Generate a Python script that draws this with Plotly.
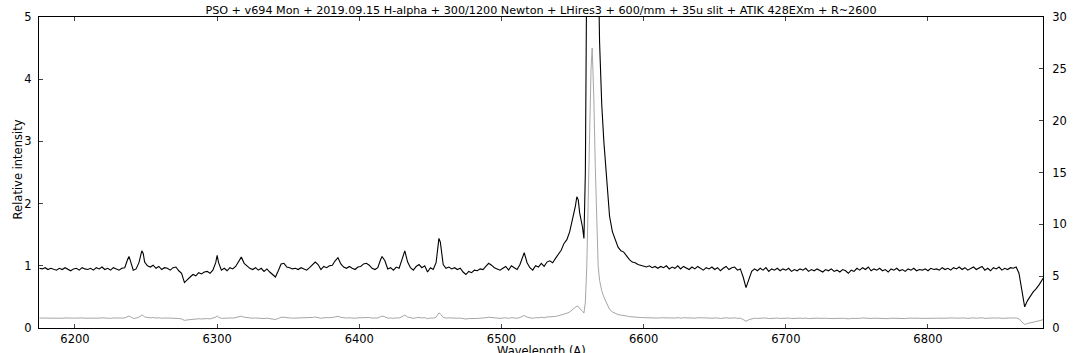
import plotly.graph_objects as go

# Wavelength (Angstrom) and relative intensity (normalised) of the spectrum
wavelength = [
    6175, 6177, 6179, 6181, 6183, 6185, 6187, 6189, 6191, 6193, 6195, 6197, 6199,
    6201, 6203, 6205, 6207, 6209, 6211, 6213, 6215, 6217, 6219, 6221, 6223, 6225,
    6227, 6229, 6231, 6233, 6235, 6237, 6238, 6239, 6241, 6243, 6245, 6247, 6248,
    6249, 6251, 6253, 6255, 6257, 6259, 6261, 6263, 6265, 6267, 6269, 6271, 6273,
    6275, 6277, 6279, 6281, 6283, 6285, 6287, 6289, 6291, 6293, 6295, 6297, 6299,
    6300, 6301, 6303, 6305, 6307, 6309, 6311, 6313, 6315, 6317, 6319, 6321, 6323,
    6325, 6327, 6329, 6331, 6333, 6335, 6337, 6339, 6341, 6343, 6345, 6347, 6349,
    6351, 6353, 6355, 6357, 6359, 6361, 6363, 6365, 6367, 6369, 6371, 6373, 6375,
    6377, 6379, 6381, 6383, 6385, 6387, 6389, 6391, 6393, 6395, 6397, 6399, 6401,
    6403, 6405, 6407, 6409, 6411, 6413, 6415, 6416, 6418, 6420, 6422, 6424, 6426,
    6428, 6430, 6432, 6434, 6436, 6438, 6440, 6442, 6444, 6446, 6448, 6450, 6452,
    6454, 6456, 6457, 6459, 6461, 6463, 6465, 6467, 6469, 6471, 6473, 6475, 6477,
    6479, 6481, 6483, 6485, 6487, 6489, 6491, 6493, 6495, 6497, 6499, 6501, 6503,
    6505, 6507, 6509, 6511, 6513, 6515, 6516, 6518, 6520, 6522, 6524, 6526, 6528,
    6530, 6532, 6534, 6536, 6538, 6540, 6542, 6544, 6546, 6548, 6550, 6552, 6553,
    6554, 6555, 6556, 6557, 6558, 6559, 6560, 6561, 6562, 6563, 6563.8, 6564.5,
    6565, 6566, 6567, 6568, 6569, 6570.5, 6572, 6574, 6576, 6578, 6580, 6582, 6584,
    6586, 6588, 6590, 6592, 6594, 6596, 6598,
    6600, 6602, 6604, 6606, 6608, 6610, 6612, 6614, 6616, 6618, 6620, 6622, 6624,
    6626, 6628, 6630, 6632, 6634, 6636, 6638, 6640, 6642, 6644, 6646, 6648, 6650,
    6652, 6654, 6656, 6658, 6660, 6662, 6664, 6666, 6668, 6670, 6672, 6674, 6676,
    6678, 6680, 6682, 6684, 6686, 6688, 6690, 6692, 6694, 6696, 6698, 6700, 6702,
    6704, 6706, 6708, 6710, 6712, 6714, 6716, 6718, 6720, 6722, 6724, 6726, 6728,
    6730, 6732, 6734, 6736, 6738, 6740, 6742, 6744, 6746, 6748, 6750, 6752, 6754,
    6756, 6758, 6760, 6762, 6764, 6766, 6768, 6770, 6772, 6774, 6776, 6778, 6780,
    6782, 6784, 6786, 6788, 6790, 6792, 6794, 6796, 6798, 6800, 6802, 6804, 6806,
    6808, 6810, 6812, 6814, 6816, 6818, 6820, 6822, 6824, 6826, 6828, 6830, 6832,
    6834, 6836, 6838, 6840, 6842, 6844, 6846, 6848, 6850, 6852, 6854, 6856, 6858,
    6860, 6862, 6864, 6866, 6868, 6870, 6872, 6874, 6876, 6878, 6881,
]

intensity = [
    0.96, 0.95, 0.97, 0.94, 0.96, 0.95, 0.93, 0.96, 0.94, 0.97, 0.95, 0.92, 0.95,
    0.96, 0.93, 0.97, 0.95, 0.94, 0.96, 0.93, 0.97, 0.95, 0.98, 0.94, 0.96, 0.93,
    0.97, 0.95, 0.93, 0.96, 0.97, 1.10, 1.15, 1.08, 0.93, 0.95, 1.05, 1.24, 1.20,
    1.06, 1.00, 0.98, 1.01, 0.96, 0.99, 0.94, 0.97, 0.96, 0.93, 0.97, 0.98, 0.92,
    0.88, 0.73, 0.78, 0.82, 0.86, 0.84, 0.89, 0.87, 0.90, 0.91, 0.88, 0.93, 1.05,
    1.17, 1.05, 0.93, 0.96, 0.92, 0.97, 0.95, 0.99, 1.06, 1.14, 1.04, 1.00, 0.96,
    0.94, 0.97, 0.93, 0.96, 0.91, 0.95, 0.90, 0.86, 0.82, 0.92, 1.03, 1.04, 0.98,
    0.97, 0.95, 0.96, 0.94, 0.97, 0.95, 0.93, 0.97, 1.02, 1.06, 1.02, 0.94, 0.99,
    0.97, 1.00, 1.01, 1.08, 1.13, 1.03, 0.98, 0.96, 0.99, 0.96, 0.94, 0.98, 0.99,
    1.03, 1.04, 1.01, 0.96, 0.94, 0.97, 1.10, 1.15, 1.08, 0.95, 0.97, 0.93, 0.98,
    0.96, 1.10, 1.24, 1.06, 0.97, 0.93, 0.99, 1.02, 0.97, 1.00, 0.90, 0.97, 0.94,
    1.05, 1.44, 1.38, 1.02, 0.96, 0.98, 0.95, 0.97, 0.94, 0.96, 0.90, 0.86, 0.91,
    0.89, 0.93, 0.92, 0.95, 0.94, 0.99, 1.04, 1.01, 0.97, 0.95, 0.93, 0.96, 0.99,
    0.93, 1.00, 0.97, 0.94, 1.02, 1.16, 1.21, 1.05, 0.97, 0.93, 1.00, 0.98, 1.04,
    0.99, 1.06, 1.08, 1.05, 1.12, 1.18, 1.25, 1.36, 1.42, 1.55, 1.74, 1.96, 2.11,
    2.06, 1.85, 1.74, 1.62, 1.44, 2.5, 5.9, 12.3, 19.0, 25.0, 27.0, 24.5,
    22.0, 15.5, 9.2, 6.0, 4.6, 3.6, 3.0, 2.4, 1.8, 1.55, 1.42, 1.30, 1.24,
    1.22, 1.16, 1.10, 1.06, 1.05, 1.02, 1.01,
    1.00, 0.98, 1.00, 0.97, 0.99, 0.96, 0.99, 0.97, 1.00, 0.95, 0.98, 0.96, 1.00,
    0.95, 0.99, 0.97, 0.94, 0.98, 0.95, 0.99, 0.96, 0.93, 0.97, 0.95, 0.98, 0.94,
    0.97, 0.92, 0.96, 0.99, 0.94, 0.97, 0.98, 0.93, 0.95, 0.82, 0.65, 0.80, 0.91,
    0.95, 0.92, 0.96, 0.93, 0.97, 0.91, 0.95, 0.93, 0.96, 0.92, 0.95, 0.93, 0.96,
    0.91, 0.94, 0.92, 0.95, 0.93, 0.96, 0.91, 0.94, 0.92, 0.95, 0.93, 0.90, 0.94,
    0.92, 0.95, 0.91, 0.93, 0.90, 0.94, 0.92, 0.88, 0.93, 0.91, 0.96, 0.93, 0.97,
    0.94, 0.98, 0.92, 0.95, 0.93, 0.96, 0.92, 0.94, 0.90, 0.95, 0.93, 0.96, 0.92,
    0.94, 0.91, 0.95, 0.93, 0.96, 0.92, 0.94, 0.93, 0.95, 0.92, 0.96, 0.94, 0.95,
    0.93, 0.97, 0.94, 0.96, 0.93, 0.97, 0.95, 0.98, 0.94, 0.97, 0.93, 0.96, 0.98,
    0.94, 0.97, 0.99, 0.93, 0.96, 0.92, 0.97, 0.95, 0.98, 0.93, 0.96, 0.94, 0.97,
    0.96, 0.98, 0.88, 0.60, 0.34, 0.44, 0.52, 0.58, 0.63, 0.69, 0.80,
]

title_text = ("PSO + v694 Mon + 2019.09.15 H-alpha + 300/1200 Newton + LHires3 + "
              "600/mm + 35u slit + ATIK 428EXm + R~2600")
x_ticks = [6200, 6300, 6400, 6500, 6600, 6700, 6800]
y_left_ticks = [0, 1, 2, 3, 4, 5]
y_right_ticks = [0, 5, 10, 15, 20, 25, 30]

FONT = "DejaVu Sans"

fig = go.Figure()
# full-scale profile on the right axis (grey)
fig.add_trace(go.Scatter(x=wavelength, y=intensity, mode="lines", yaxis="y2",
                         line=dict(color="#a6a6a6", width=1), showlegend=False))
# zoomed profile on the left axis (black)
fig.add_trace(go.Scatter(x=wavelength, y=intensity, mode="lines", yaxis="y",
                         line=dict(color="#000000", width=1.1), showlegend=False))

fig.update_layout(
    width=1086, height=353,
    margin=dict(l=39, r=43, t=17, b=25, autoexpand=False),
    paper_bgcolor="white", plot_bgcolor="white",
    font=dict(family=FONT, size=11, color="black"),
    title=dict(text=title_text, x=0.5, xanchor="center", xref="paper",
               y=1 - 10 / 353, yref="container", yanchor="middle",
               font=dict(family=FONT, size=11.2, color="black")),
    xaxis=dict(range=[6174.7, 6880.9], tickvals=x_ticks, ticks="inside", ticklen=4,
               showline=True, linecolor="black", linewidth=1, mirror="ticks",
               showgrid=False, zeroline=False, tickfont=dict(size=11.5),
               automargin=False),
    yaxis=dict(range=[0, 5], tickvals=y_left_ticks, ticks="inside", ticklen=4,
               showline=True, linecolor="black", linewidth=1, showgrid=False,
               zeroline=False, tickfont=dict(size=11.5), ticklabelstandoff=4,
               automargin=False),
    yaxis2=dict(range=[0, 30], tickvals=y_right_ticks, ticks="inside", ticklen=4,
                overlaying="y", side="right", showline=True, linecolor="black",
                linewidth=1, showgrid=False, zeroline=False, tickfont=dict(size=11.5),
                ticklabelstandoff=6, automargin=False),
    annotations=[
        dict(text="Wavelength (A)", xref="paper", yref="paper", x=0.5, y=-0.074,
             xanchor="center", yanchor="middle", showarrow=False,
             font=dict(family=FONT, size=11.5)),
        dict(text="Relative intensity", xref="paper", yref="paper", x=-0.0209,
             y=0.51, xanchor="center", yanchor="middle", textangle=-90,
             showarrow=False, font=dict(family=FONT, size=11.5)),
    ],
)

fig.write_html("out.html", config={"displayModeBar": False},
               post_script="document.body.style.margin='0px';")
